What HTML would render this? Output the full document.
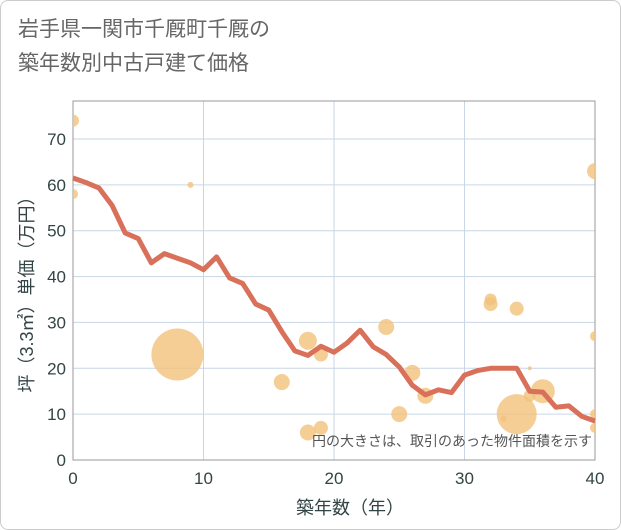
<!DOCTYPE html>
<html><head><meta charset="utf-8"><style>
body{margin:0;background:#fff;font-family:"Liberation Sans","Noto Sans CJK JP",sans-serif;}
#wrap{position:relative;width:621px;height:530px;}
.frame{position:absolute;left:0;top:0;width:619px;height:528px;border:1px solid #ccc;border-radius:8px;}
h1{position:absolute;left:18px;top:13px;margin:0;font-weight:normal;font-size:21px;line-height:34px;color:#666;}
</style></head><body>
<div id="wrap">
<div class="frame"></div>
<h1>岩手県一関市千厩町千厩の<br>築年数別中古戸建て価格</h1>
<svg id="c" width="621" height="530" style="position:absolute;left:0;top:0"></svg>
</div>
<script>
const years=[0,1,2,3,4,5,6,7,8,9,10,11,12,13,14,15,16,17,18,19,20,21,22,23,24,25,26,27,28,29,30,31,32,33,34,35,36,37,38,39,40];
const avgPrice=[61.5,60.5,59.3,55.5,49.5,48.3,43,45,44,43,41.5,44.3,39.7,38.5,34,32.7,28,23.8,22.8,24.8,23.5,25.5,28.3,24.7,23,20.3,16.3,14.2,15.3,14.7,18.5,19.5,20,20,20,15,14.8,11.5,11.8,9.5,8.5];
const bubbleAge=[0,0,9,8,18,19,16,18,19,24,26,25,27,32,32,34,35,34,33,35,36,40,40,40,40];
const bubblePrice=[74,58,60,23,26,23,17,6,7,29,19,10,14,35,34,33,20,10,9,14,15,63,27,10,7];
const bubbleArea=[36,25,9,676,81,49,64,64,49,64,64,64,64,36,49,49,4,400,9,36,144,64,25,25,25];
const xTicks=[0,10,20,30,40];
const yTicks=[0,10,20,30,40,50,60,70];
const NS='http://www.w3.org/2000/svg';
const svg=document.getElementById('c');
const L=73,R=595,T=101,B=460;
const x=v=>L+(R-L)*v/40;
const y=v=>B-(B-139)*v/70;
function el(t,a,p){const e=document.createElementNS(NS,t);for(const k in a)e.setAttribute(k,a[k]);(p||svg).appendChild(e);return e;}
const clip=el('clipPath',{id:'pc'});el('rect',{x:L,y:T,width:R-L,height:B-T},clip);
const grid=el('g',{});


xTicks.forEach(t=>{
  const l=el('line',{x1:x(t),x2:x(t),y1:T,y2:B,stroke:'#c9d6e6','stroke-width':1},grid);
  
  
  const tx=el('text',{x:x(t),y:484,'text-anchor':'middle','font-size':17,fill:'#344'});
  tx.textContent=t;
  
  
});
yTicks.forEach(t=>{
  const l=el('line',{x1:L,x2:R,y1:y(t),y2:y(t),stroke:'#c9d6e6','stroke-width':1},grid);
  
  
  const tx=el('text',{x:66,y:y(t)+6,'text-anchor':'end','font-size':17,fill:'#344'});
  tx.textContent=t;
  
  
});
const ax=el('rect',{x:L,y:T,width:R-L,height:B-T,fill:'none',stroke:'#999','stroke-width':1});


const bg=el('g',{'clip-path':'url(#pc)'});
bubbleAge.forEach((a,i)=>{
  const c=el('circle',{cx:x(a),cy:y(bubblePrice[i]),r:Math.sqrt(bubbleArea[i]),fill:'#f3c27a','fill-opacity':0.8},bg);
  
  
});
const pl=el('polyline',{points:years.map((a,i)=>x(a)+','+y(avgPrice[i])).join(' '),fill:'none',stroke:'#d9705a','stroke-width':5,'stroke-linejoin':'round'});


const note=el('text',{x:592,y:446,'text-anchor':'end','font-size':14,fill:'#555'});
note.textContent='円の大きさは、取引のあった物件面積を示す';


const xt=el('text',{x:350,y:514,'text-anchor':'middle','font-size':18,fill:'#344'});
xt.textContent='築年数（年）';


const yt=el('text',{x:0,y:0,'text-anchor':'middle','font-size':18,fill:'#344',transform:'translate(33,290) rotate(-90)'});
yt.textContent='坪（3.3㎡）単価（万円）';


</script>
</body></html>
